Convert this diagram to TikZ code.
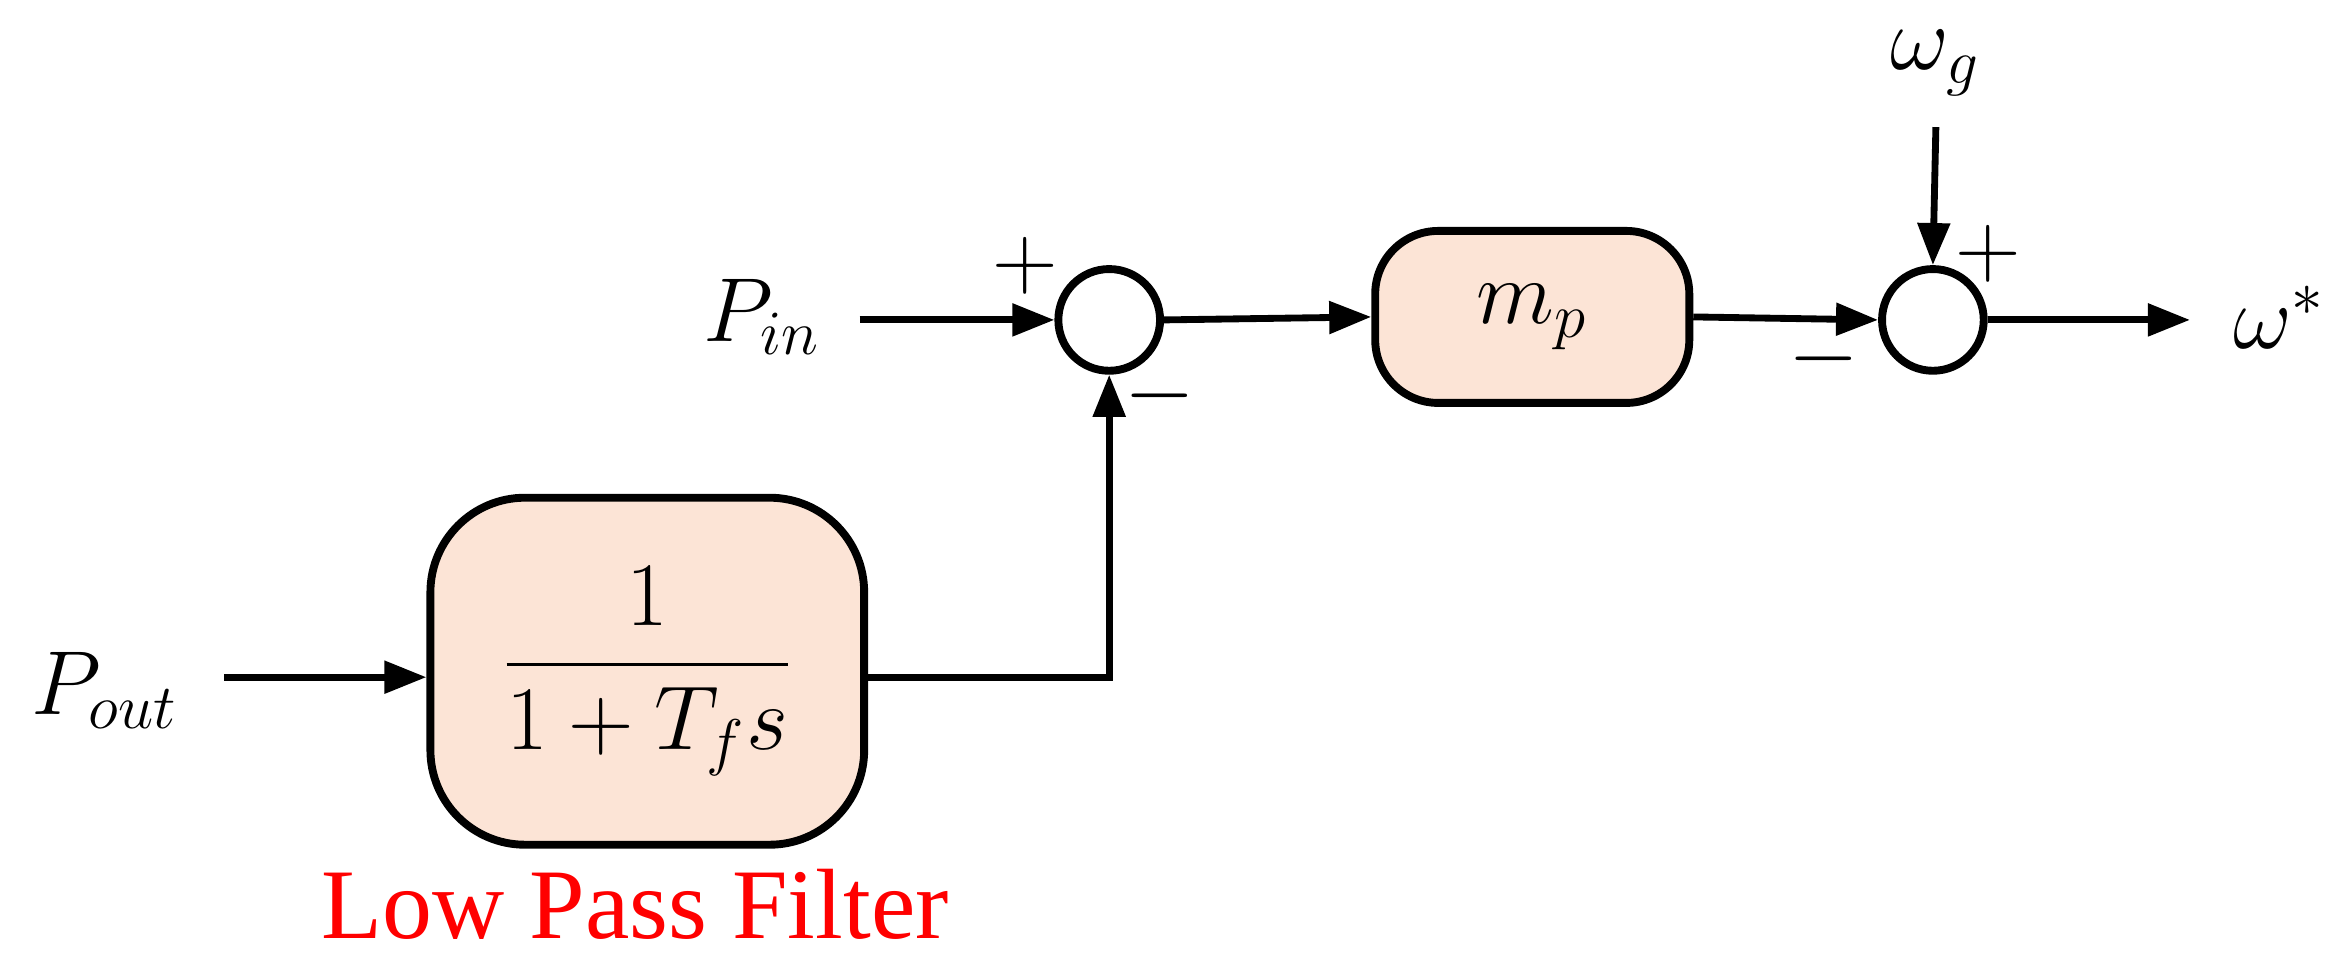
\documentclass[tikz,border=0pt]{standalone}
\usepackage{amsmath}
\usepackage{fontspec}
\newfontfamily\tnr{Liberation Serif}
\usetikzlibrary{arrows.meta}
\definecolor{peach}{RGB}{252,228,214}
\begin{document}
\begin{tikzpicture}[x=0.01cm,y=-0.01cm,
  line width=1.3pt,
  >={Triangle[length=8pt,width=6pt]},
  blk/.style={draw,fill=peach,rounded corners=12pt,line width=1.5pt},
  sum/.style={draw,circle,minimum size=0.68cm,inner sep=0pt,line width=1.5pt},
  lbl/.style={font=\fontsize{18}{21}\selectfont},
  sgn/.style={font=\fontsize{16}{18}\selectfont}]
\useasboundingbox (0,0) rectangle (1568,642);
\node[sum] (s1) at (742,214) {};
\node[sum] (s2) at (1293,214) {};
\node[blk,minimum width=2.1cm,minimum height=1.15cm] (mp) at (1025,212) {\fontsize{18}{21}\selectfont$m_p$};
\node[blk,minimum width=2.9cm,minimum height=2.32cm,rounded corners=18pt] (lpf) at (433,449) {\fontsize{18}{21}\selectfont$\dfrac{1}{1+T_f s}$};
\node[lbl] (pin) at (510,212) {$P_{in}$};
\node[lbl] (pout) at (70,462) {$P_{out}$};
\node[lbl] (wg) at (1295,42) {$\omega_g$};
\node[lbl] (ws) at (1525,212) {$\omega^*$};
\node[text=red,font=\tnr\fontsize{19}{22}\selectfont] (lbf) at (425,605) {Low Pass Filter};
\node[sgn] (p1) at (686,178) {$+$};
\node[sgn] (m1) at (776,265) {$-$};
\node[sgn] (p2) at (1330,170) {$+$};
\node[sgn] (m2) at (1220,240) {$-$};
\coordinate (a1) at (575,214);
\coordinate (a2) at (150,453);
\coordinate (a3) at (1295,85);
\coordinate (a4) at (1465,214);
\draw[->] (a1) -- (s1.west);
\draw[->] (s1.east) -- (mp.west);
\draw[->] (mp.east) -- (s2.west);
\draw[->] (s2.east) -- (a4);
\draw[->] (a3) -- (s2.north);
\draw[->] (a2) -- (lpf.west |- a2);
\draw[->] (lpf.east |- a2) -| (s1.south);
\end{tikzpicture}
\end{document}
